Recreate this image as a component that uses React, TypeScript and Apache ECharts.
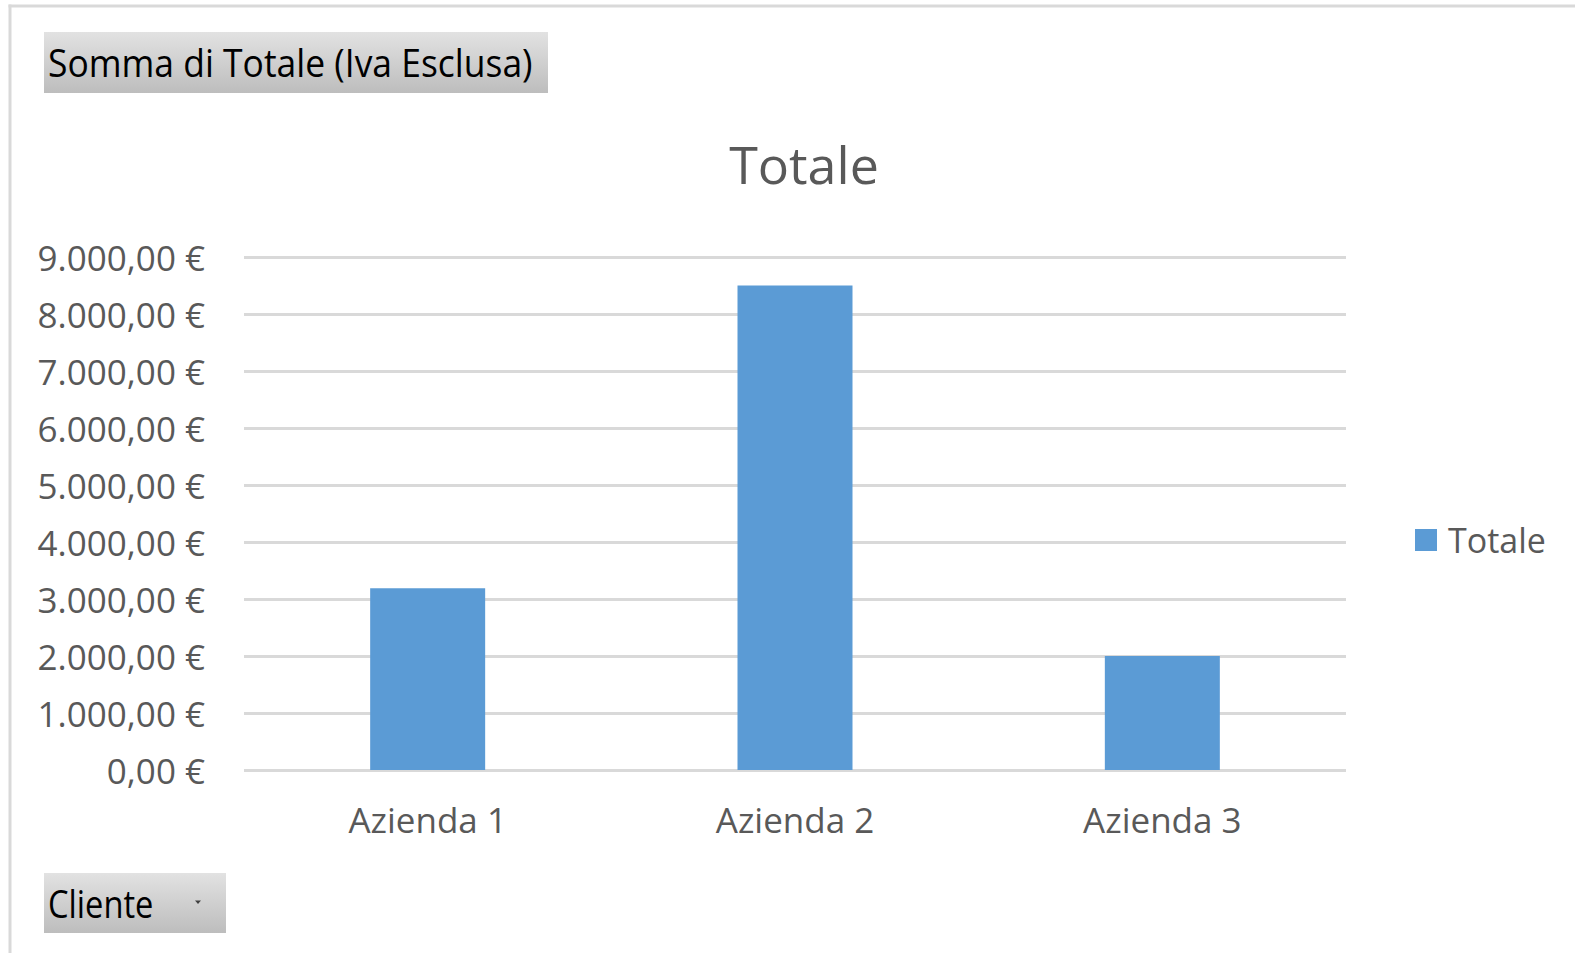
import React, { useEffect, useRef } from "react";
import * as echarts from "echarts";

const categories = ["Azienda 1", "Azienda 2", "Azienda 3"];
const totals = [3190, 8500, 2000];
const seriesName = "Totale";
const yMax = 9000;
const yStep = 1000;

const FONT = "'Open Sans', 'Noto Sans', sans-serif";
const GRID = "#d9d9d9";
const LABEL = "#595959";

function euro(v: number): string {
  const fixed = v.toFixed(2);
  const [intPart, dec] = fixed.split(".");
  const grouped = intPart.replace(/\B(?=(\d{3})+(?!\d))/g, ".");
  return `${grouped},${dec} €`;
}

function buttonFill() {
  return new echarts.graphic.LinearGradient(0, 0, 0, 1, [
    { offset: 0, color: "#e2e2e2" },
    { offset: 1, color: "#bdbdbd" },
  ]);
}

export default function App() {
  const ref = useRef<HTMLDivElement>(null);

  useEffect(() => {
    if (!ref.current) return;
    const chart = echarts.init(ref.current, undefined, { renderer: "svg" });
    chart.setOption({
      animation: false,
      backgroundColor: "#ffffff",
      textStyle: { fontFamily: FONT },
      grid: { left: 244, right: 229, top: 257, bottom: 183, containLabel: false },
      xAxis: {
        type: "category",
        data: categories,
        axisLine: { show: false },
        axisTick: { show: false },
        axisLabel: { color: LABEL, fontSize: 35, fontFamily: FONT, margin: 32 },
      },
      yAxis: {
        type: "value",
        min: 0,
        max: yMax,
        interval: yStep,
        axisLine: { show: false },
        axisTick: { show: false },
        splitLine: { lineStyle: { color: GRID, width: 3 } },
        axisLabel: {
          color: LABEL,
          fontSize: 35,
          fontFamily: FONT,
          margin: 39,
          padding: [0, 0, 4, 0],
          formatter: (v: number) => euro(v),
        },
      },
      legend: {
        orient: "vertical",
        left: 1415,
        top: 523,
        padding: 0,
        icon: "rect",
        itemWidth: 22,
        itemHeight: 22,
        data: [seriesName],
        textStyle: { color: LABEL, fontSize: 34, fontFamily: FONT, padding: [0, 0, 0, 6] },
      },
      series: [
        {
          name: seriesName,
          type: "bar",
          data: totals,
          barWidth: 115,
          itemStyle: { color: "#5b9bd5" },
        },
      ],
      graphic: [
        // outer frame
        {
          type: "line",
          shape: { x1: 8.5, y1: 6, x2: 1575, y2: 6 },
          style: { stroke: GRID, lineWidth: 3 },
          silent: true,
        },
        {
          type: "line",
          shape: { x1: 10, y1: 4.5, x2: 10, y2: 953 },
          style: { stroke: GRID, lineWidth: 3 },
          silent: true,
        },
        // chart title
        {
          type: "text",
          x: 804,
          y: 163,
          style: {
            text: "Totale",
            fill: LABEL,
            font: `52px ${FONT}`,
            align: "center",
            verticalAlign: "middle",
          },
        },
        // value field button
        {
          type: "rect",
          shape: { x: 44, y: 32, width: 504, height: 61 },
          style: { fill: buttonFill() },
        },
        {
          type: "text",
          x: 48,
          y: 63,
          scaleX: 0.933,
          style: {
            text: "Somma di Totale (Iva Esclusa)",
            fill: "#000000",
            font: `38px ${FONT}`,
            align: "left",
            verticalAlign: "middle",
          },
        },
        // axis field button
        {
          type: "rect",
          shape: { x: 44, y: 873, width: 182, height: 60 },
          style: { fill: buttonFill() },
        },
        {
          type: "text",
          x: 48,
          y: 903,
          scaleX: 0.86,
          style: {
            text: "Cliente",
            fill: "#000000",
            font: `38px ${FONT}`,
            align: "left",
            verticalAlign: "middle",
          },
        },
        {
          type: "polygon",
          shape: { points: [[195, 900.5], [201, 900.5], [198, 904]] },
          style: { fill: "#404040" },
        },
      ],
    });
    return () => chart.dispose();
  }, []);

  return (
    <div
      ref={ref}
      style={{ position: "fixed", left: 0, top: 0, width: 1575, height: 953 }}
    />
  );
}
